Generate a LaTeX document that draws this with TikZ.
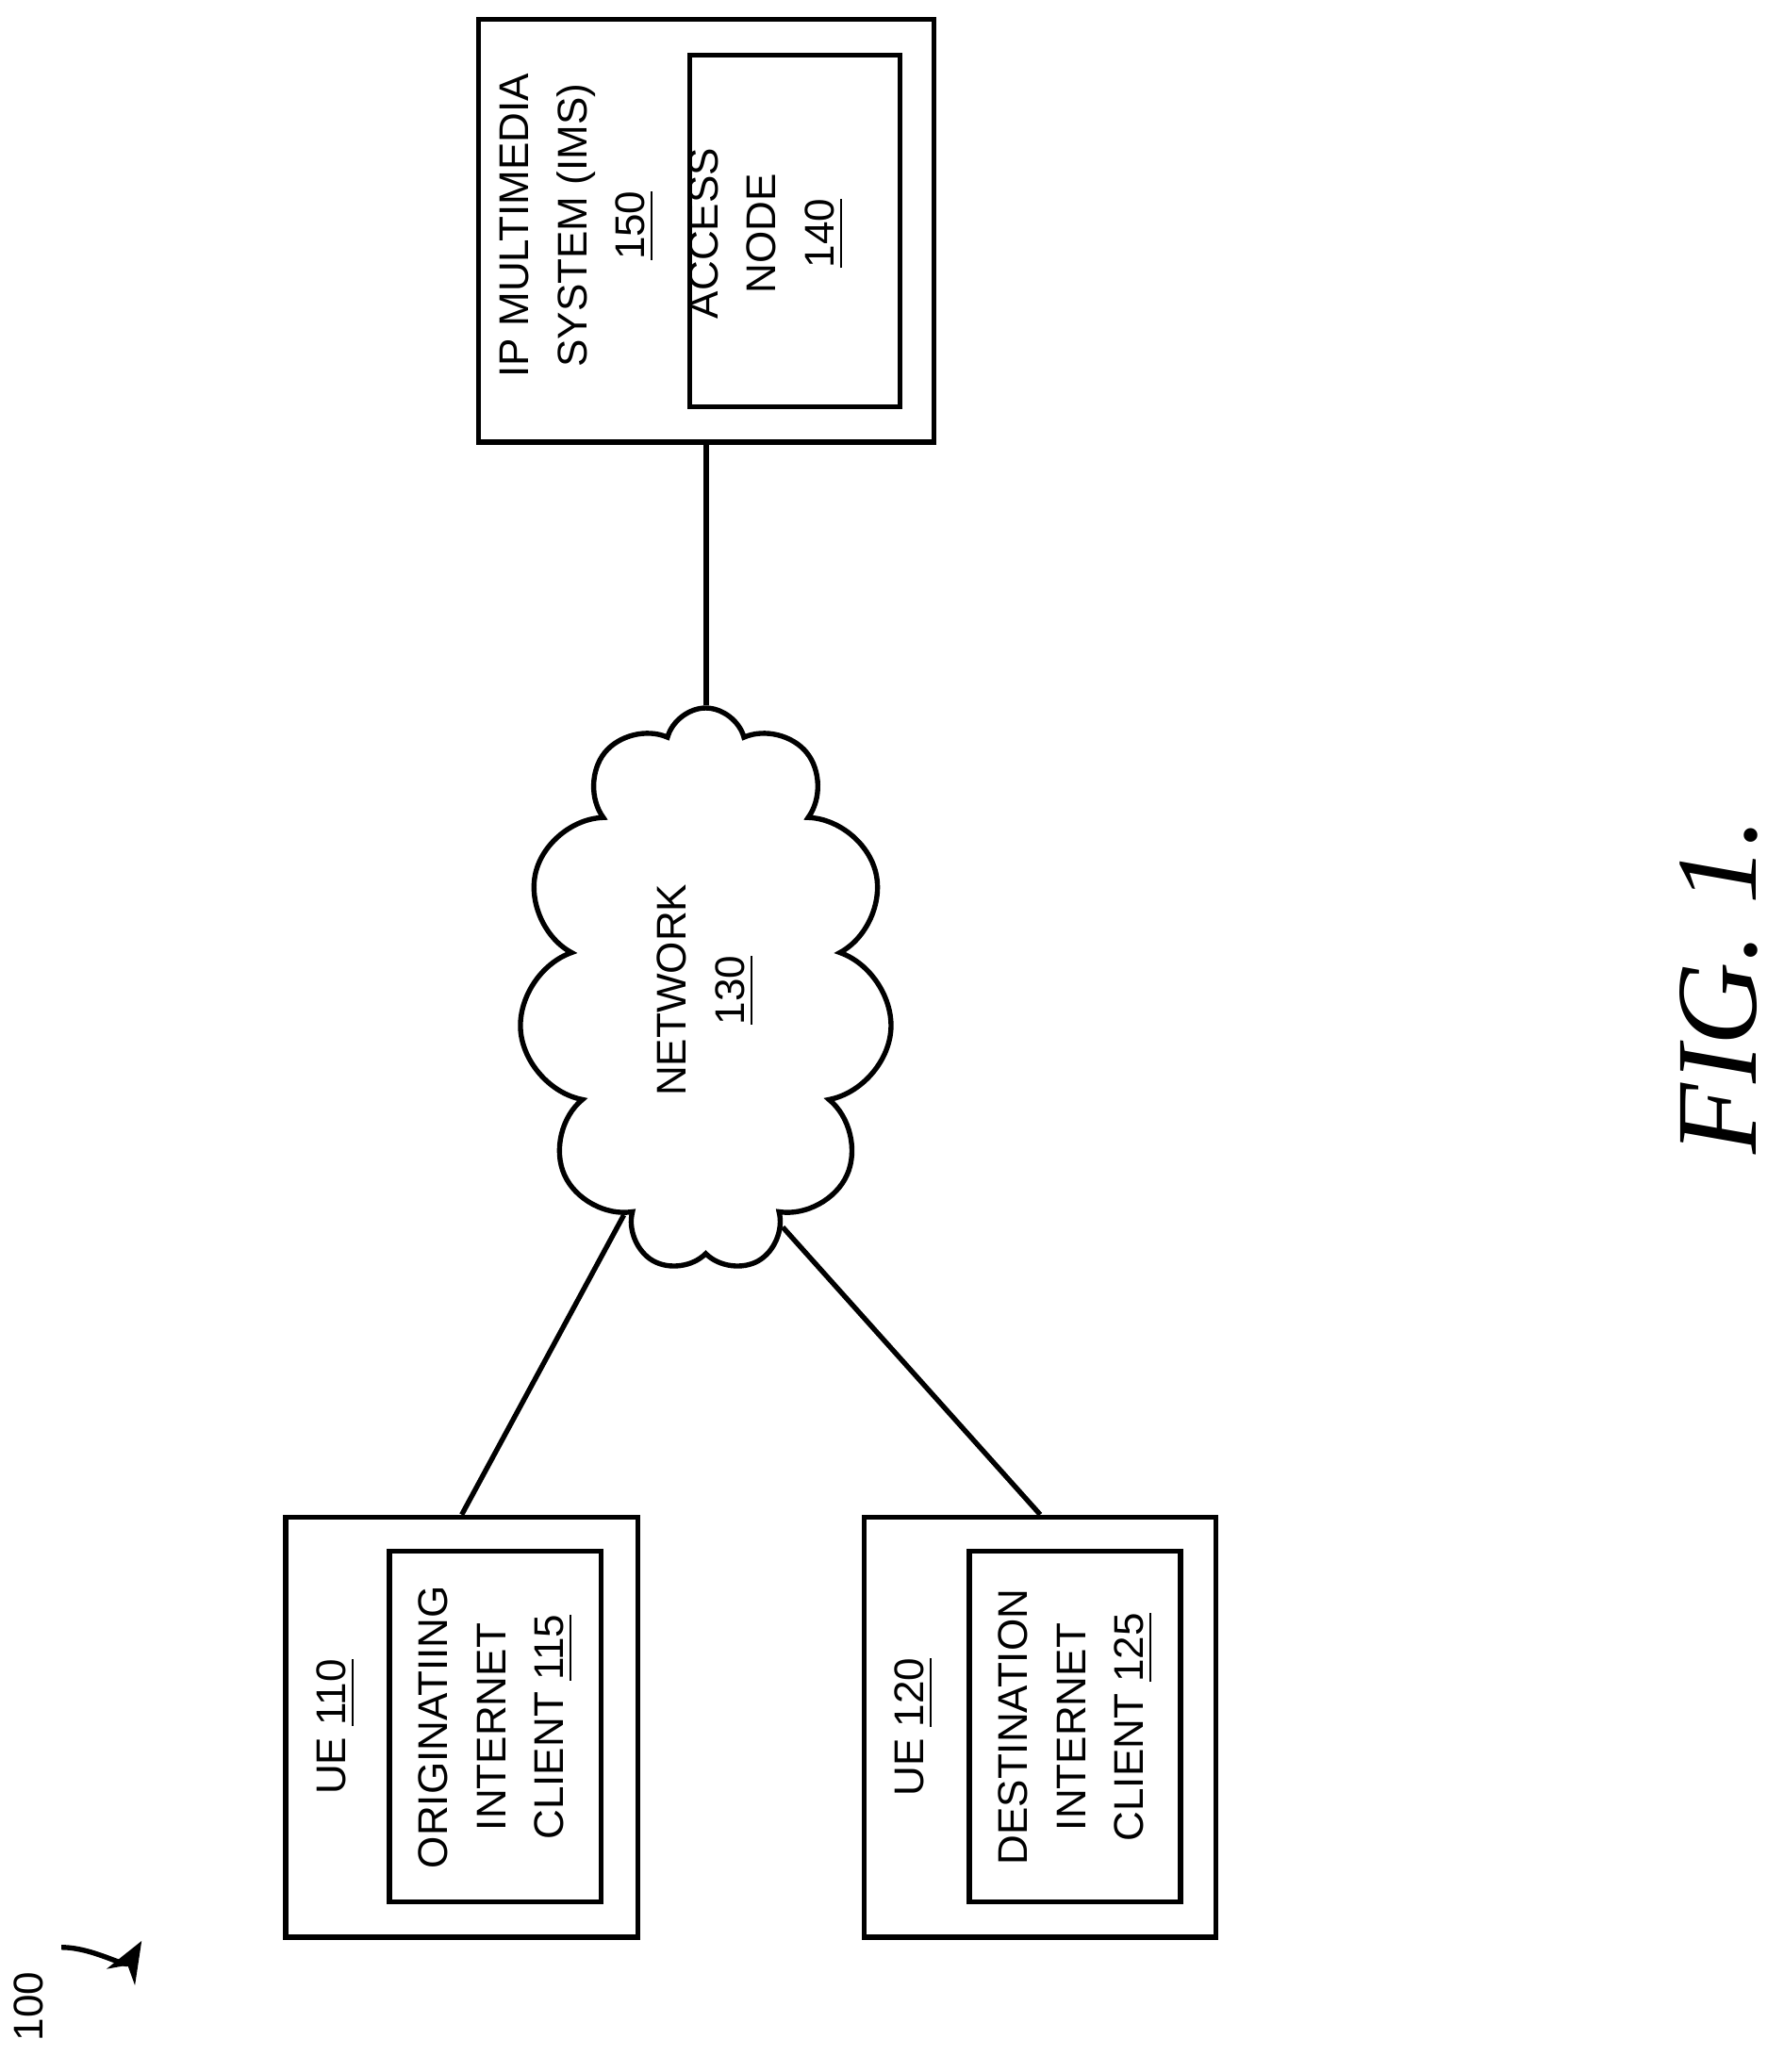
\documentclass[tikz,border=0pt]{standalone}
\usepackage{fontspec}
\setmainfont{Liberation Sans}
\newfontfamily\figfont{Liberation Serif}
\usetikzlibrary{shapes.symbols}
\usetikzlibrary{arrows.meta}
\begin{document}
\begin{tikzpicture}[x=0.01cm, y=-0.01cm, line width=1.1pt,
	box/.style={draw, inner sep=0pt},
	lbl/.style={rotate=90, align=center, font=\fontsize{9pt}{12.6pt}\selectfont}]
	\useasboundingbox (0,0) rectangle (1360,1580);

	% IMS with access node
	\node (ims) [box, minimum width=347\pgflinewidth*0+3.47cm, minimum height=3.22cm] at (538.5,176) {};
	\node (acc) [box, minimum width=1.6cm, minimum height=2.68cm] at (606,176) {};
	\node (imsT) [lbl] at (440,172) {IP MULTIMEDIA\\SYSTEM (IMS)\\\underline{150}};
	\node (accT) [lbl] at (584,178) {ACCESS\\NODE\\\underline{140}};

	% network
	\node (net) [cloud, draw, cloud puffs=11, cloud ignores aspect, minimum width=2.85cm, minimum height=4.3cm] at (538,755) {};
	\node (netT) [lbl] at (538,755) {NETWORK\\\underline{130}};

	% user equipment
	\node (ue1) [box, minimum width=2.68cm, minimum height=3.2cm] at (352,1317) {};
	\node (oic) [box, minimum width=1.61cm, minimum height=2.67cm] at (377.5,1316.5) {};
	\node (ue1T) [lbl] at (256,1317) {UE \underline{110}};
	\node (oicT) [lbl] at (378,1317) {ORIGINATIING\\INTERNET\\CLIENT \underline{115}};

	\node (ue2) [box, minimum width=2.68cm, minimum height=3.2cm] at (793,1317) {};
	\node (dic) [box, minimum width=1.61cm, minimum height=2.67cm] at (819.5,1316.5) {};
	\node (ue2T) [lbl] at (697,1317) {UE \underline{120}};
	\node (dicT) [lbl] at (820,1317) {DESTINATION\\INTERNET\\CLIENT \underline{125}};

	\draw (ims.south) -- (ims.south |- net.north);
	\draw (net.-110) -- (ue1.north);
	\draw (net.-72) -- (ue2.north);

	% reference numeral and figure label
	\node (num) [rotate=90, font=\fontsize{9pt}{11pt}\selectfont] at (22,1530) {100};
	\coordinate (numEnd) at (108,1480);
	\draw [-{Stealth[length=9pt,width=7pt]}] (num.south east) ++(0,-5) to[out=0, in=240] (numEnd);
	\node (fig) [rotate=90, font=\figfont\itshape\fontsize{25pt}{30pt}\selectfont] at (1310,752) {FIG. 1.};
\end{tikzpicture}
\end{document}
